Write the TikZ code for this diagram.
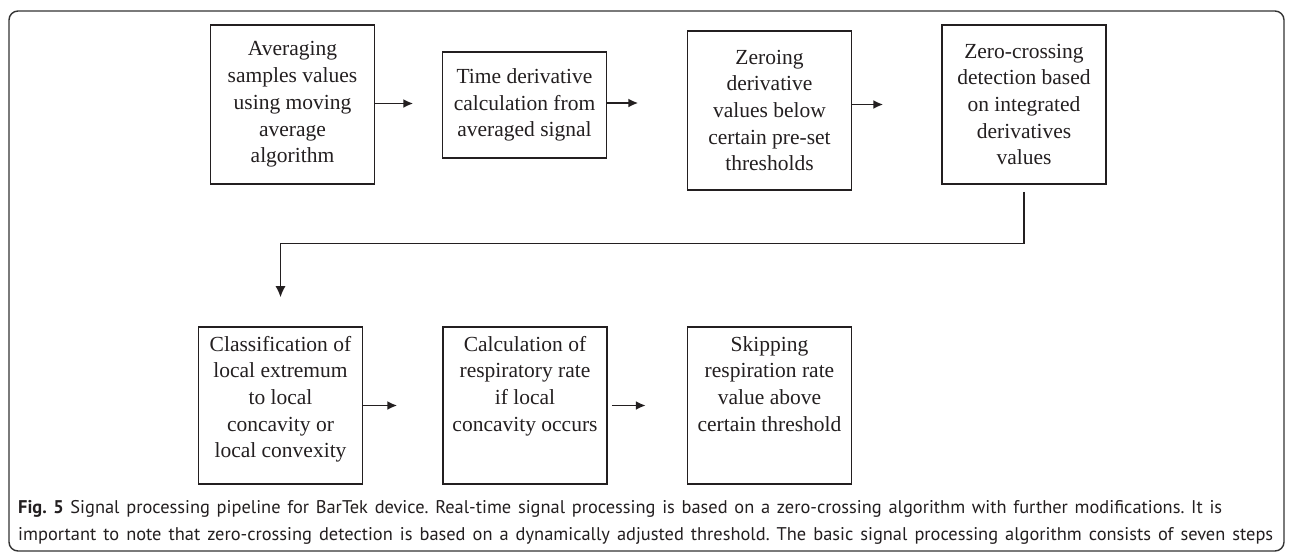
\documentclass[tikz,border=0pt]{standalone}
\usepackage{fontspec}
\setmainfont{Liberation Serif}
\newfontfamily\capfont{PT Sans}
\usetikzlibrary{arrows.meta}
\frenchspacing

% box with vertically centred text
\newcommand{\stepc}[3]{\parbox[c][#2][c]{#1}{\centering #3}}
% box with text hanging from the top
\newcommand{\stept}[3]{\parbox[c][#2][t]{#1}{\centering\rule{0pt}{24pt}#3}}

\definecolor{ink}{HTML}{231F20}

\tikzset{
  stepbox/.style={draw=ink, line width=1.6pt, inner sep=0pt, text=ink,
    font=\fontsize{21.5}{26.7}\selectfont},
  flow/.style={draw=ink, line width=1.9pt, -{Latex[length=10pt,width=9pt]}},
  feed/.style={draw=ink, line width=1.3pt, -{Latex[length=11pt,width=10pt]}},
  frame/.style={draw=black!80, line width=1.4pt, rounded corners=9pt},
  captext/.style={anchor=base west, inner sep=0pt, text=ink,
    font=\capfont\fontsize{18.4}{26.7}\selectfont}
}

\begin{document}
\begin{tikzpicture}[x=1pt, y=-1pt]
\useasboundingbox (0,0) rectangle (1293,557);
\fill[white] (0,0) rectangle (1293,557);
\draw[frame] (9,11) rectangle (1284,551);

% upper row
\node[stepbox] (B1) at (292.5,104.5) {\stepc{164pt}{159pt}{Averaging\\ samples values\\ using moving\\ average\\ algorithm}};
\node[stepbox] (B2) at (524.5,105) {\stepc{164pt}{106pt}{Time derivative\\ calculation from\\ averaged signal}};
\node[stepbox] (B3) at (769.5,110.5) {\stepc{164pt}{159pt}{Zeroing\\ derivative\\ values below\\ certain pre-set\\ thresholds}};
\node[stepbox] (B4) at (1024,104.5) {\stepc{164pt}{159pt}{Zero-crossing\\ detection based\\ on integrated\\ derivatives\\ values}};

% lower row
\node[stepbox] (B5) at (280.5,405.5) {\stept{164pt}{157pt}{Classification of\\ local extremum\\ to local\\ concavity or\\ local convexity}};
\node[stepbox] (B6) at (525,405.5) {\stept{164pt}{157pt}{Calculation of\\ respiratory rate\\ if local\\ concavity occurs}};
\node[stepbox] (B7) at (769.5,405.5) {\stept{164pt}{157pt}{Skipping\\ respiration rate\\ value above\\ certain threshold}};

% connectors
\draw[flow] ([yshift=1pt]B1.east) -- ++(38,0);
\draw[flow] ([yshift=2pt]B2.east) -- ++(31,0);
\draw[flow] ([yshift=6pt]B3.east) -- ++(31,0);
\draw[feed] ([yshift=-7pt]B4.south) |- ([yshift=83pt]B5.north) -- ([yshift=29pt]B5.north);
\draw[flow] (B5.east) -- ++(34,0);
\draw[flow] ([xshift=4pt]B6.east) -- ++(34,0);

% caption, each line set to its printed width
\node[captext] (C1) at (18,513) {\makebox[1204pt][s]{\textbf{Fig. 5} Signal processing pipeline for BarTek device. Real-time signal processing is based on a zero-crossing algorithm with further modifications. It is}};
\node[captext] (C2) at (18,540) {\makebox[1255pt][s]{important to note that zero-crossing detection is based on a dynamically adjusted threshold. The basic signal processing algorithm consists of seven steps}};
\end{tikzpicture}
\end{document}
